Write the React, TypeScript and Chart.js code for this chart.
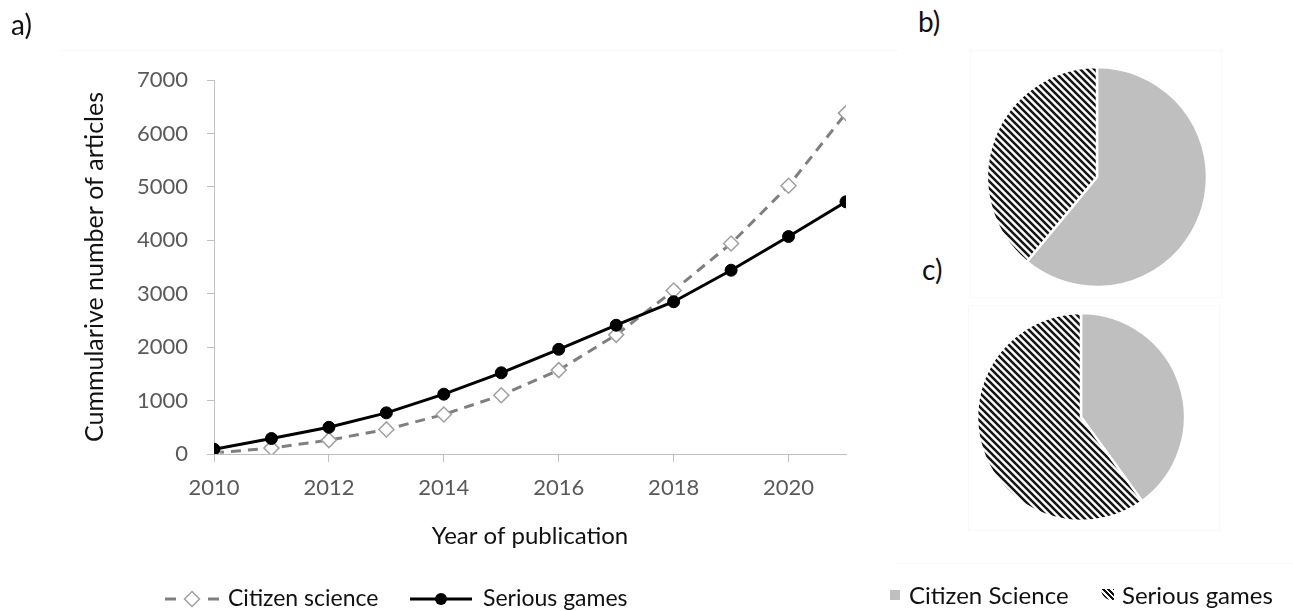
import React, { useEffect, useRef } from 'react';
import { Chart, registerables } from 'chart.js';

Chart.register(...registerables);

// ---------- data ----------
const years = [2010, 2011, 2012, 2013, 2014, 2015, 2016, 2017, 2018, 2019, 2020, 2021];
const citizenScience = [20, 110, 260, 460, 740, 1100, 1570, 2230, 3060, 3940, 5020, 6380];
const seriousGames = [90, 290, 500, 770, 1120, 1520, 1960, 2410, 2850, 3440, 4070, 4720];
const xTickYears = [2010, 2012, 2014, 2016, 2018, 2020];
const yMin = 0;
const yMax = 7000;
const yStep = 1000;
const lineSeriesLabels = ['Citizen science', 'Serious games'];

const pieLabels = ['Citizen Science', 'Serious games'];
const pieB = [61, 39];
const pieC = [40, 60];

// ---------- style ----------
const FONT = 'Lato, "Open Sans", sans-serif';
const TEXT = '#111111';
const TICK = '#595959';
const AXIS = '#bfbfbf';
const GREY_FILL = '#bfbfbf';

function makeHatch(): CanvasPattern | string {
  const T = 7;
  const c = document.createElement('canvas');
  c.width = T;
  c.height = T;
  const g = c.getContext('2d');
  if (!g) return '#444';
  g.fillStyle = '#ffffff';
  g.fillRect(0, 0, T, T);
  g.strokeStyle = '#151515';
  g.lineWidth = 2.5;
  g.beginPath();
  for (let k = -1; k <= 1; k++) {
    g.moveTo(k * T - 1, -1);
    g.lineTo(k * T + T + 1, T + 1);
  }
  g.stroke();
  const p = g.createPattern(c, 'repeat');
  return p || '#444';
}

const lineLegendPlugin = {
  id: 'lineLegend',
  afterDraw(chart: any) {
    const ctx = chart.ctx as CanvasRenderingContext2D;
    const ds = chart.data.datasets;
    const y = 599;
    ctx.save();
    const a = ds[0];
    ctx.strokeStyle = a.borderColor;
    ctx.lineWidth = a.borderWidth;
    ctx.setLineDash([]);
    ctx.beginPath();
    ctx.moveTo(165, y);
    ctx.lineTo(176, y);
    ctx.moveTo(208, y);
    ctx.lineTo(219, y);
    ctx.stroke();
    const r = a.pointRadius;
    ctx.beginPath();
    ctx.moveTo(192, y - r);
    ctx.lineTo(192 + r, y);
    ctx.lineTo(192, y + r);
    ctx.lineTo(192 - r, y);
    ctx.closePath();
    ctx.fillStyle = a.pointBackgroundColor;
    ctx.fill();
    ctx.strokeStyle = a.pointBorderColor;
    ctx.lineWidth = a.pointBorderWidth;
    ctx.stroke();
    const b = ds[1];
    ctx.strokeStyle = b.borderColor;
    ctx.lineWidth = b.borderWidth;
    ctx.beginPath();
    ctx.moveTo(410, y);
    ctx.lineTo(472, y);
    ctx.stroke();
    ctx.beginPath();
    ctx.arc(441, y, b.pointRadius, 0, Math.PI * 2);
    ctx.fillStyle = b.pointBackgroundColor;
    ctx.fill();
    ctx.font = `23px ${FONT}`;
    ctx.fillStyle = TEXT;
    ctx.textBaseline = 'middle';
    ctx.textAlign = 'left';
    ctx.fillText(a.label, 228, y);
    ctx.fillText(b.label, 483, y);
    ctx.restore();
  },
};

function LineChart() {
  const ref = useRef<HTMLCanvasElement | null>(null);
  useEffect(() => {
    if (!ref.current) return;
    const chart = new Chart(ref.current, {
      type: 'line',
      data: {
        datasets: [
          {
            label: lineSeriesLabels[0],
            data: years.map((x, i) => ({ x, y: citizenScience[i] })),
            borderColor: '#7f7f7f',
            borderWidth: 3,
            borderDash: [10, 7],
            pointStyle: 'rectRot',
            pointRadius: 7.5,
            pointBackgroundColor: '#ffffff',
            pointBorderColor: '#a0a0a0',
            pointBorderWidth: 1.5,
            tension: 0,
            order: 2,
          } as any,
          {
            label: lineSeriesLabels[1],
            data: years.map((x, i) => ({ x, y: seriousGames[i] })),
            borderColor: '#000000',
            borderWidth: 3,
            pointStyle: 'circle',
            pointRadius: 6,
            pointBackgroundColor: '#000000',
            pointBorderColor: '#000000',
            pointBorderWidth: 1,
            tension: 0,
            order: 1,
          } as any,
        ],
      },
      options: {
        animation: false,
        responsive: false,
        maintainAspectRatio: false,
        events: [],
        layout: { padding: { top: 80, left: 0, right: 54, bottom: 0 } },
        plugins: { legend: { display: false }, tooltip: { enabled: false } },
        scales: {
          x: {
            type: 'linear',
            min: years[0],
            max: years[years.length - 1],
            afterBuildTicks: (scale: any) => {
              scale.ticks = xTickYears.map((v) => ({ value: v }));
            },
            afterFit: (scale: any) => {
              scale.height = 611 - 454;
            },
            grid: { drawOnChartArea: false, drawTicks: true, tickLength: 8, color: AXIS, lineWidth: 1 },
            border: { display: true, color: AXIS, width: 1 },
            ticks: {
              autoSkip: false,
              maxRotation: 0,
              padding: 13,
              color: TICK,
              font: { family: FONT, size: 22 },
              callback: (v: any) => String(v),
            },
            title: {
              display: true,
              text: 'Year of publication',
              color: TEXT,
              font: { family: FONT, size: 24 },
              padding: { top: 0, bottom: 60 },
            },
          },
          y: {
            type: 'linear',
            min: yMin,
            max: yMax,
            afterFit: (scale: any) => {
              scale.width = 214;
            },
            grid: { drawOnChartArea: false, drawTicks: true, tickLength: 7, color: AXIS, lineWidth: 1 },
            border: { display: true, color: AXIS, width: 1 },
            ticks: {
              stepSize: yStep,
              padding: 19,
              color: TICK,
              font: { family: FONT, size: 22 },
              callback: (v: any) => String(v),
            },
            title: {
              display: true,
              text: 'Cummularive number of articles',
              color: TEXT,
              font: { family: FONT, size: 25 },
              padding: { top: 80, bottom: 0 },
            },
          },
        },
      },
      plugins: [lineLegendPlugin],
    });
    return () => chart.destroy();
  }, []);
  return (
    <canvas
      ref={ref}
      width={900}
      height={611}
      style={{ position: 'absolute', left: 0, top: 0, width: 900, height: 611 }}
    />
  );
}

function PieChart(props: { values: number[]; left: number; top: number; radius: number }) {
  const ref = useRef<HTMLCanvasElement | null>(null);
  const { values, left, top, radius } = props;
  useEffect(() => {
    if (!ref.current) return;
    const chart = new Chart(ref.current, {
      type: 'pie',
      data: {
        labels: pieLabels,
        datasets: [
          {
            data: values,
            backgroundColor: [GREY_FILL, makeHatch()],
            borderColor: '#ffffff',
            borderWidth: 2.5,
          } as any,
        ],
      },
      options: {
        animation: false,
        responsive: false,
        maintainAspectRatio: false,
        events: [],
        radius: radius,
        layout: { padding: 0 },
        plugins: { legend: { display: false }, tooltip: { enabled: false } },
      } as any,
    });
    return () => chart.destroy();
  }, []);
  return (
    <canvas
      ref={ref}
      width={240}
      height={240}
      style={{ position: 'absolute', left, top, width: 240, height: 240 }}
    />
  );
}

const labelStyle: React.CSSProperties = {
  position: 'absolute',
  fontFamily: FONT,
  fontSize: 28,
  lineHeight: '32px',
  color: TEXT,
  whiteSpace: 'nowrap',
};

const legendText: React.CSSProperties = {
  position: 'absolute',
  fontFamily: FONT,
  fontSize: 24,
  lineHeight: '28px',
  color: TEXT,
  whiteSpace: 'nowrap',
};

export default function App() {
  return (
    <div style={{ position: 'absolute', left: 0, top: 0, width: 1293, height: 611, background: '#fff', overflow: 'hidden' }}>
      <div style={{ position: 'absolute', left: 60, top: 50, width: 838, height: 0, borderTop: '1px solid #f8f8f8' }} />
      <div style={{ position: 'absolute', left: 970, top: 50, width: 250, height: 246, border: '1px solid #f8f8f8' }} />
      <div style={{ position: 'absolute', left: 968, top: 305, width: 250, height: 224, border: '1px solid #f8f8f8' }} />
      <div style={{ position: 'absolute', left: 897, top: 563, width: 396, height: 0, borderTop: '1px solid #f8f8f8' }} />

      <LineChart />
      <PieChart values={pieB} left={1097 - 120} top={177 - 120} radius={110} />
      <PieChart values={pieC} left={1081 - 120} top={417 - 120} radius={104} />

      <div style={{ ...labelStyle, left: 11, top: 8 }}>a)</div>
      <div style={{ ...labelStyle, left: 918, top: 5 }}>b)</div>
      <div style={{ ...labelStyle, left: 922, top: 253 }}>c)</div>

      <div style={{ position: 'absolute', left: 890, top: 590, width: 10, height: 10, background: GREY_FILL }} />
      <div style={{ ...legendText, left: 909, top: 581 }}>{pieLabels[0]}</div>
      <div
        style={{
          position: 'absolute',
          left: 1101,
          top: 589,
          width: 13,
          height: 11,
          borderRadius: '0 0 0 11px',
          background: 'repeating-linear-gradient(45deg, #111 0px, #111 2px, #fff 2px, #fff 4px)',
        }}
      />
      <div style={{ ...legendText, left: 1122, top: 581 }}>{pieLabels[1]}</div>
    </div>
  );
}
